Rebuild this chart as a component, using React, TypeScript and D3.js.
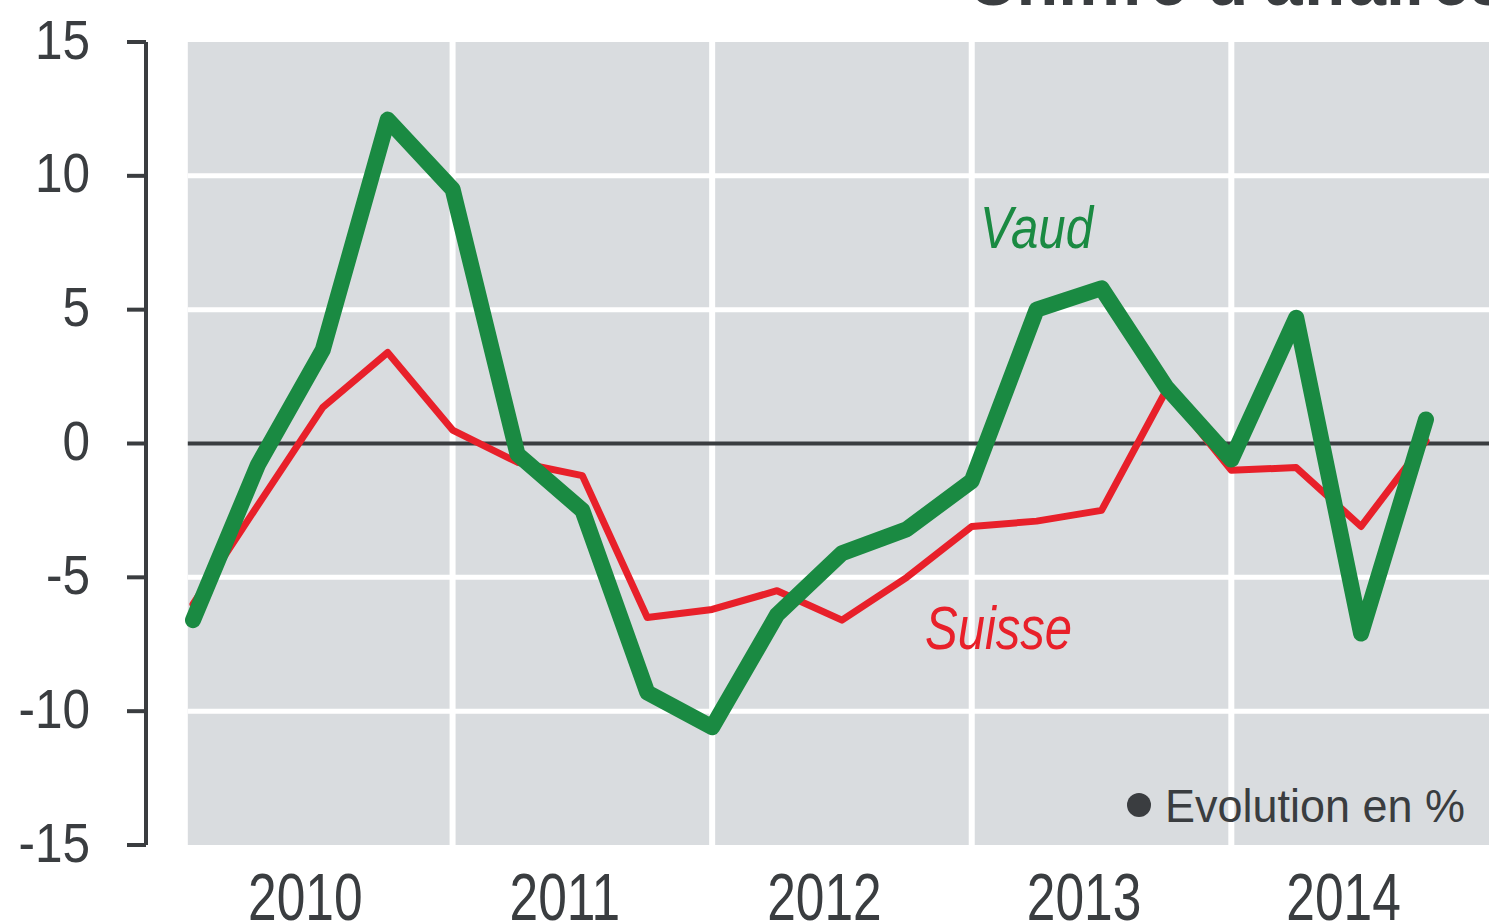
import * as d3 from 'd3';
import React from 'react';

// quarterly change in %, 2010 Q1 .. 2014 Q4
const quarters = d3.range(20).map(i => `${2010 + Math.floor(i / 4)}-T${(i % 4) + 1}`);
const vaud = [-6.6, -0.8, 3.5, 12.1, 9.5, -0.4, -2.5, -9.3, -10.6, -6.4, -4.1, -3.2, -1.4, 5.0, 5.8, 2.1, -0.6, 4.7, -7.1, 0.9];
const suisse = [-6.0, -2.3, 1.35, 3.4, 0.5, -0.7, -1.2, -6.5, -6.2, -5.5, -6.6, -5.0, -3.1, -2.9, -2.5, 2.0, -1.0, -0.9, -3.1, 0.1];
const years = [2010, 2011, 2012, 2013, 2014];
const yTicks = [15, 10, 5, 0, -5, -10, -15];

const W = 1489;
const H = 923;
const ink = '#3a3d40';
const green = '#1a8a42';
const red = '#e8202a';

export default function App() {
  // one unit per quarter, first quarter of each year sits on the year boundary
  const x = d3.scaleLinear().domain([0, 19]).range([193, 1426]);
  const y = d3.scaleLinear().domain([-15, 15]).range([845, 42]);

  const line = d3.line<number>()
    .x((d, i) => x(i))
    .y(d => y(d));

  const font = '"Liberation Sans", Arial, sans-serif';
  const left = x(-0.08);

  return (
    <svg width={W} height={H} style={{ position: 'absolute', left: 0, top: 0, background: '#fff' }}>
      {/* title, cut at the top */}
      <g transform="translate(967,5) scale(0.95,1)">
        <text fontFamily={font} fontWeight="bold" fontSize={72} fill={ink}>Chiffre d'affaires</text>
      </g>

      {/* plot background */}
      <rect x={left} y={y(15)} width={W - left} height={y(-15) - y(15)} fill="#d9dcdf" />

      {/* grid */}
      {yTicks.filter(t => t !== 0 && Math.abs(t) !== 15).map(t => (
        <line key={t} x1={left} x2={W} y1={y(t)} y2={y(t)} stroke="#fff" strokeWidth={5} />
      ))}
      {years.slice(1).map((yr, i) => (
        <line key={yr} x1={x((i + 1) * 4)} x2={x((i + 1) * 4)} y1={y(15)} y2={y(-15)} stroke="#fff" strokeWidth={6} />
      ))}
      <line x1={left} x2={W} y1={y(0)} y2={y(0)} stroke={ink} strokeWidth={4} />

      {/* y axis */}
      <line x1={146} x2={146} y1={y(15)} y2={y(-15)} stroke={ink} strokeWidth={4} />
      {yTicks.map(t => (
        <g key={t}>
          <line x1={127} x2={146} y1={y(t)} y2={y(t)} stroke={ink} strokeWidth={4} />
          <g transform={`translate(90,${y(t)}) scale(0.9,1)`}>
            <text textAnchor="end" dy="0.3em" fontFamily={font} fontSize={55} fill={ink}>{t}</text>
          </g>
        </g>
      ))}

      {/* x labels */}
      {years.map((yr, i) => (
        <g key={yr} transform={`translate(${x(i * 4 + 1.73)},920) scale(0.78,1)`}>
          <text textAnchor="middle" fontFamily={font} fontSize={66} fill={ink}>{yr}</text>
        </g>
      ))}

      {/* series */}
      <path d={line(suisse) || ''} fill="none" stroke={red} strokeWidth={7} strokeLinejoin="round" strokeLinecap="round" />
      <path d={line(vaud) || ''} fill="none" stroke={green} strokeWidth={16} strokeLinejoin="round" strokeLinecap="round" />

      {/* series labels */}
      <g transform="translate(980,248) scale(0.82,1)">
        <text fontFamily={font} fontStyle="italic" fontSize={60} fill={green}>Vaud</text>
      </g>
      <g transform="translate(925,649) scale(0.79,1)">
        <text fontFamily={font} fontStyle="italic" fontSize={62} fill={red}>Suisse</text>
      </g>

      {/* note */}
      <circle cx={1139} cy={805} r={12} fill={ink} />
      <text x={1165} y={822} fontFamily={font} fontSize={47} fill={ink} textLength={300} lengthAdjust="spacingAndGlyphs">Evolution en %</text>
    </svg>
  );
}
